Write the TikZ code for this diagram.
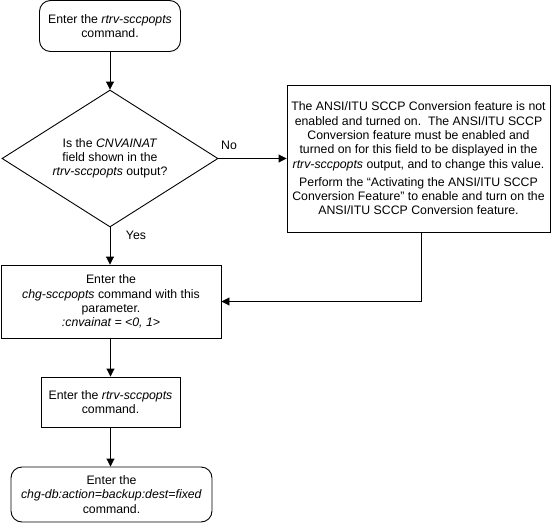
\documentclass[tikz,border=0pt]{standalone}
\usepackage{fontspec}
\setmainfont{Liberation Sans}
\usetikzlibrary{shapes.geometric,arrows.meta}
\begin{document}
\begin{tikzpicture}[x=1pt,y=-1pt,
  every node/.style={font=\fontsize{12.3}{14.3}\selectfont, align=center, inner sep=0pt},
  proc/.style={draw, line width=0.9pt, rectangle},
  term/.style={draw, line width=0.9pt, rectangle, rounded corners=11pt},
  dec/.style={draw, line width=0.9pt, diamond, shape aspect=1.58},
  conn/.style={line width=0.9pt, -{Triangle[length=8pt,width=8pt]}},
  lab/.style={font=\fontsize{12.3}{14.3}\selectfont}
]
\useasboundingbox (0,0) rectangle (555,525);

\node[term, minimum width=141pt, minimum height=51pt] (start) at (110,26)
  {Enter the \textit{rtrv-sccpopts}\\command.};

\node[dec, minimum width=216pt, minimum height=137pt] (q) at (110,158.5)
  {Is the \textit{CNVAINAT}\\field shown in the\\\textit{rtrv-sccpopts} output?};

\node[proc, minimum width=263pt, minimum height=147pt] (nobox) at (418.5,158.5)
  {The ANSI/ITU SCCP Conversion feature is not\\
   enabled and turned on.\ \ The ANSI/ITU SCCP\\
   Conversion feature must be enabled and\\
   turned on for this field to be displayed in the\\
   \textit{rtrv-sccpopts} output, and to change this value.\\[4pt]
   Perform the “Activating the ANSI/ITU SCCP\\
   Conversion Feature” to enable and turn on the\\
   ANSI/ITU SCCP Conversion feature.};

\node[proc, minimum width=220pt, minimum height=73pt] (chg) at (111,301.5)
  {Enter the\\\textit{chg-sccpopts} command with this\\parameter.\\\textit{:cnvainat = <0, 1>}};

\node[proc, minimum width=139pt, minimum height=50pt] (rtrv) at (110.5,402)
  {Enter the \textit{rtrv-sccpopts}\\command.};

\node[term, minimum width=201pt, minimum height=55pt] (end) at (111.5,494.5)
  {Enter the\\\textit{chg-db:action=backup:dest=fixed}\\command.};

\draw[conn] (start.south) -- (start.south |- q.north);
\draw[conn] (q.east) -- (nobox.west);
\draw[conn] (q.south) -- (q.south |- chg.north);
\draw[conn] ([xshift=2.5pt]nobox.south) |- (chg.east);
\draw[conn] (chg.south -| rtrv.north) -- (rtrv.north);
\draw[conn] (rtrv.south) -- (rtrv.south |- end.north);

\node[lab] (nolab) at (229,145) {No};
\node[lab] (yeslab) at (136,235) {Yes};
\end{tikzpicture}
\end{document}
